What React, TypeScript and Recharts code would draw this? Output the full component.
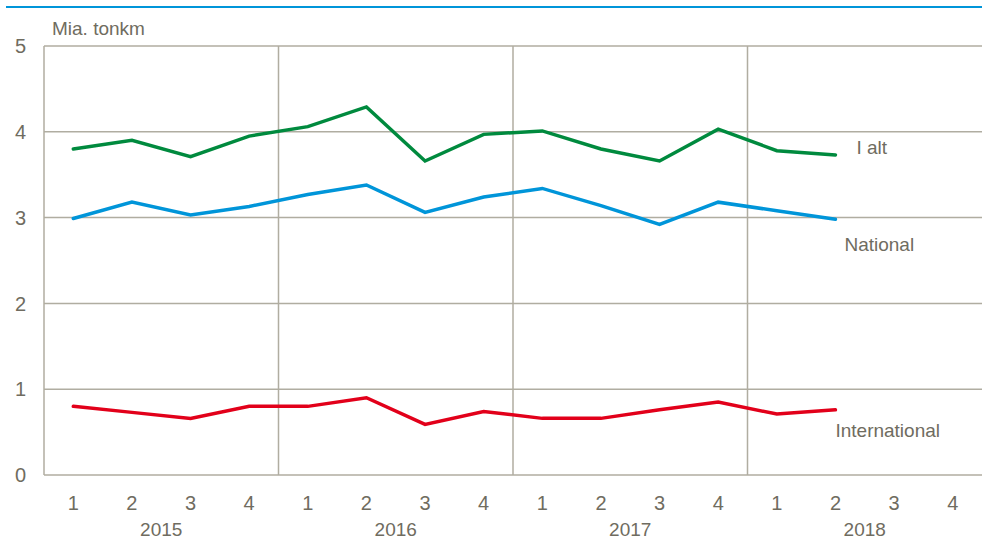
import React from "react";
import { LineChart, Line, XAxis, YAxis, CartesianGrid, LabelList } from "recharts";

const quarters = ["1", "2", "3", "4", "1", "2", "3", "4", "1", "2", "3", "4", "1", "2", "3", "4"];
const years = ["2015", "2015", "2015", "2015", "2016", "2016", "2016", "2016", "2017", "2017", "2017", "2017", "2018", "2018", "2018", "2018"];

const iAlt = [3.8, 3.9, 3.71, 3.95, 4.06, 4.29, 3.66, 3.97, 4.01, 3.8, 3.66, 4.03, 3.78, 3.73, null, null];
const national = [2.99, 3.18, 3.03, 3.13, 3.27, 3.38, 3.06, 3.24, 3.34, 3.14, 2.92, 3.18, 3.08, 2.98, null, null];
const international = [0.8, 0.73, 0.66, 0.8, 0.8, 0.9, 0.59, 0.74, 0.66, 0.66, 0.76, 0.85, 0.71, 0.76, null, null];

const yTicks = [0, 1, 2, 3, 4, 5];

const data = quarters.map((q, i) => ({
  key: `${years[i]}-${i}`,
  q,
  year: years[i],
  iAlt: iAlt[i],
  national: national[i],
  international: international[i],
}));

const lastIdx = 13;
const FONT = "'Liberation Sans', Arial, sans-serif";
const FS = 19;
const TEXT = "#6f6c60";
const GRID = "#b0ada1";
const HALF_BAND = 29.3;

const QuarterTick = (props: any) => {
  const { x, y, payload, index } = props;
  const d = data[index];
  return (
    <g>
      <text x={x} y={y + 35} textAnchor="middle" fill={TEXT} fontSize={FS + 1} fontFamily={FONT}>
        {d ? d.q : payload.value}
      </text>
      {index % 4 === 1 && (
        <text x={x + HALF_BAND} y={y + 61} textAnchor="middle" fill={TEXT} fontSize={FS} fontFamily={FONT}>
          {d.year}
        </text>
      )}
    </g>
  );
};

const endLabel = (name: string, dx: number, dy: number) => (props: any) => {
  const { x, y, index } = props;
  if (index !== lastIdx) return null;
  return (
    <text x={x + dx} y={y + dy} fill={TEXT} fontSize={FS} fontFamily={FONT}>
      {name}
    </text>
  );
};

export default function App() {
  return (
    <div style={{ position: "absolute", left: 0, top: 0, width: 982, height: 541, background: "#fff" }}>
      <div style={{ position: "absolute", left: 6, top: 6, width: 976, height: 2, background: "#0095d9" }} />
      <LineChart width={982} height={541} data={data} margin={{ top: 46, right: 0, bottom: 6, left: 0 }}>
        <CartesianGrid
          stroke={GRID}
          strokeWidth={1.5}
          verticalCoordinatesGenerator={({ offset }: any) =>
            [1, 2, 3].map((k) => offset.left + (k * offset.width) / 4)
          }
        />
        <XAxis
          dataKey="key"
          interval={0}
          tickLine={false}
          axisLine={false}
          tickSize={0}
          tickMargin={0}
          height={60}
          padding={{ left: HALF_BAND, right: HALF_BAND }}
          tick={<QuarterTick />}
        />
        <YAxis
          domain={[0, 5]}
          ticks={yTicks}
          width={44}
          tickLine={false}
          axisLine={{ stroke: GRID, strokeWidth: 1.5 }}
          tick={{ fill: TEXT, fontSize: FS + 1, fontFamily: FONT, dx: -10 }}
          label={{
            content: () => (
              <text x={52} y={35} fill={TEXT} fontSize={FS} fontFamily={FONT}>
                Mia. tonkm
              </text>
            ),
          }}
        />
        <Line dataKey="iAlt" stroke="#008a3e" strokeWidth={3.5} strokeLinecap="round" dot={false} isAnimationActive={false}>
          <LabelList dataKey="iAlt" content={endLabel("I alt", 21, -1)} />
        </Line>
        <Line dataKey="national" stroke="#0095d9" strokeWidth={3.5} strokeLinecap="round" dot={false} isAnimationActive={false}>
          <LabelList dataKey="national" content={endLabel("National", 9, 32)} />
        </Line>
        <Line dataKey="international" stroke="#e2001a" strokeWidth={3.5} strokeLinecap="round" dot={false} isAnimationActive={false}>
          <LabelList dataKey="international" content={endLabel("International", 0, 27)} />
        </Line>
      </LineChart>
    </div>
  );
}
